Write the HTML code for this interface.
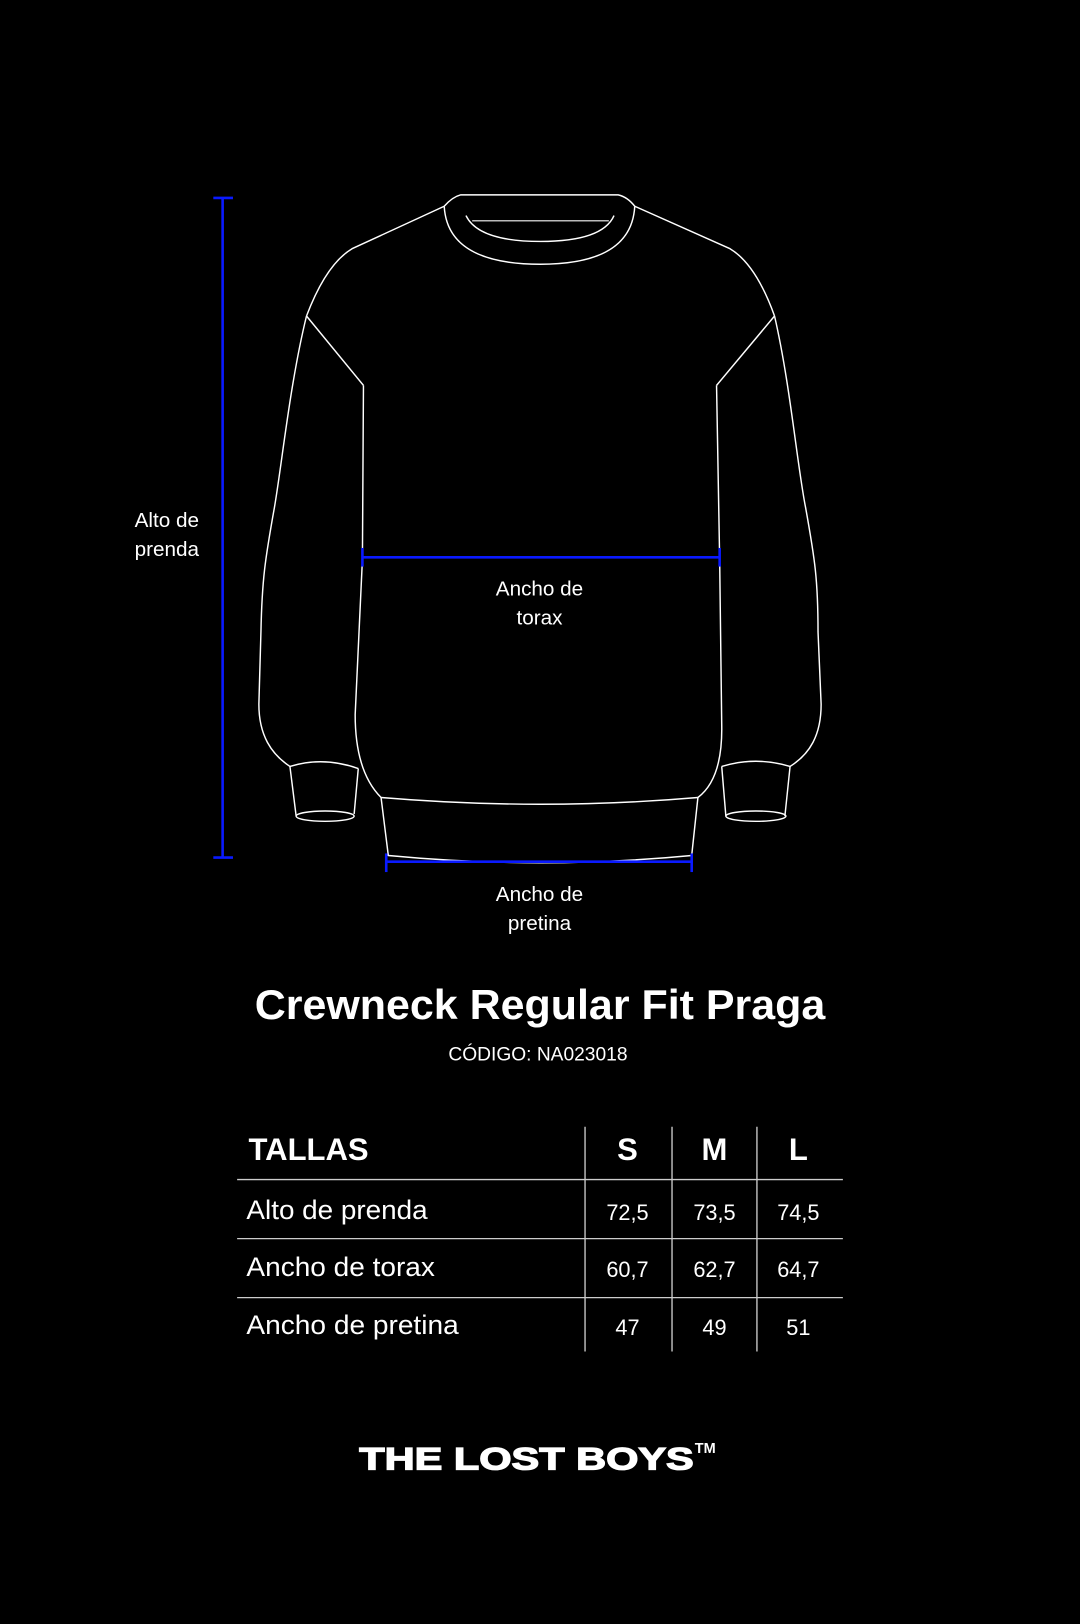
<!DOCTYPE html>
<html><head><meta charset="utf-8"><style>html,body{margin:0;padding:0;background:#000}svg{display:block}</style></head>
<body>
<svg width="1080" height="1624" viewBox="0 0 1043 1568" xmlns="http://www.w3.org/2000/svg" font-family="Liberation Sans, sans-serif">
<rect width="1043" height="1568" fill="#000"/>
<g fill="none" stroke="#fff" stroke-width="1.4" stroke-linejoin="round">
<path d="M429,199 Q437,190 445,188 L597,188 Q606,190 613,199"/>
<path d="M429,199 Q432,255 522,255 Q610,255 613,199"/>
<path d="M450,208 Q462,233 522,233 Q582,233 593,208"/>
<path d="M456,213 L588,213" stroke="#bbb"/>
<path d="M429,199 L340,240 Q315,255 296,305"/>
<path d="M613,199 L705,240 Q730,255 748,305"/>
<path d="M296,305 L351,372"/>
<path d="M748,305 L692,372"/>
<path d="M351,372 L350,540 L343,690 Q343,745 368,770"/>
<path d="M692,372 L695,540 L697,700 Q698,752 674,770"/>
<path d="M368,770 Q522,783 674,770"/>
<path d="M368,770 L375,826 Q522,840 668,826 L674,770"/>
<path d="M296,305 C280,370 272,450 265,490 C256,540 253,560 252,610 L250,680 C250,710 262,728 280,740"/>
<path d="M280,740 Q312,730 346,742"/>
<path d="M280,740 L286,788 M346,742 L342,786"/>
<ellipse cx="314" cy="788" rx="28" ry="5"/>
<path d="M748,305 C763,370 770,450 778,490 C787,540 790,560 790,610 L793,680 C793,710 782,728 763,740"/>
<path d="M697,740 Q730,730 763,740"/>
<path d="M697,740 L701,788 M763,740 L758,788"/>
<ellipse cx="730" cy="788" rx="29" ry="5"/>
</g>
<g stroke="#0a1aff" stroke-width="2.5">
<line x1="215" y1="191" x2="215" y2="828"/>
<line x1="206" y1="191" x2="225" y2="191"/>
<line x1="206" y1="828" x2="225" y2="828"/>
<line x1="350" y1="538" x2="695" y2="538"/>
<line x1="350" y1="529" x2="350" y2="547"/>
<line x1="695" y1="529" x2="695" y2="547"/>
<line x1="373" y1="832" x2="668" y2="832"/>
<line x1="373" y1="824" x2="373" y2="842"/>
<line x1="668" y1="824" x2="668" y2="842"/>
</g>
<g fill="#fff" font-size="20">
<text x="130" y="509">Alto de</text>
<text x="130" y="537">prenda</text>
<text x="521" y="575" text-anchor="middle">Ancho de</text>
<text x="521" y="603" text-anchor="middle">torax</text>
<text x="521" y="870" text-anchor="middle">Ancho de</text>
<text x="521" y="898" text-anchor="middle">pretina</text>
</g>
<text x="246" y="984" fill="#fff" font-size="40" font-weight="bold" textLength="551" lengthAdjust="spacingAndGlyphs">Crewneck Regular Fit Praga</text>
<text x="433" y="1024" fill="#fff" font-size="19" textLength="173" lengthAdjust="spacingAndGlyphs">CÓDIGO: NA023018</text>
<g stroke="#ccc" stroke-width="1.3">
<line x1="229" y1="1139" x2="814" y2="1139"/>
<line x1="229" y1="1196" x2="814" y2="1196"/>
<line x1="229" y1="1253" x2="814" y2="1253"/>
<line x1="565" y1="1088" x2="565" y2="1305"/>
<line x1="649" y1="1088" x2="649" y2="1305"/>
<line x1="731" y1="1088" x2="731" y2="1305"/>
</g>
<g fill="#fff">
<text x="240" y="1120" font-size="30" font-weight="bold" textLength="116" lengthAdjust="spacingAndGlyphs">TALLAS</text>
<text x="606" y="1120" font-size="30" font-weight="bold" text-anchor="middle">S</text>
<text x="690" y="1120" font-size="30" font-weight="bold" text-anchor="middle">M</text>
<text x="771" y="1120" font-size="30" font-weight="bold" text-anchor="middle">L</text>
<g font-size="26">
<text x="238" y="1177" textLength="175" lengthAdjust="spacingAndGlyphs">Alto de prenda</text>
<text x="238" y="1232" textLength="182" lengthAdjust="spacingAndGlyphs">Ancho de torax</text>
<text x="238" y="1288" textLength="205" lengthAdjust="spacingAndGlyphs">Ancho de pretina</text>
</g>
<g font-size="21" text-anchor="middle">
<text x="606" y="1178">72,5</text><text x="690" y="1178">73,5</text><text x="771" y="1178">74,5</text>
<text x="606" y="1233">60,7</text><text x="690" y="1233">62,7</text><text x="771" y="1233">64,7</text>
<text x="606" y="1289">47</text><text x="690" y="1289">49</text><text x="771" y="1289">51</text>
</g>
<text x="347" y="1419" font-size="30" font-weight="900" stroke="#fff" stroke-width="1.2" textLength="323" lengthAdjust="spacingAndGlyphs">THE LOST BOYS</text>
<text x="671" y="1403" font-size="14" font-weight="bold">TM</text>
</g>
</svg>
</body></html>
